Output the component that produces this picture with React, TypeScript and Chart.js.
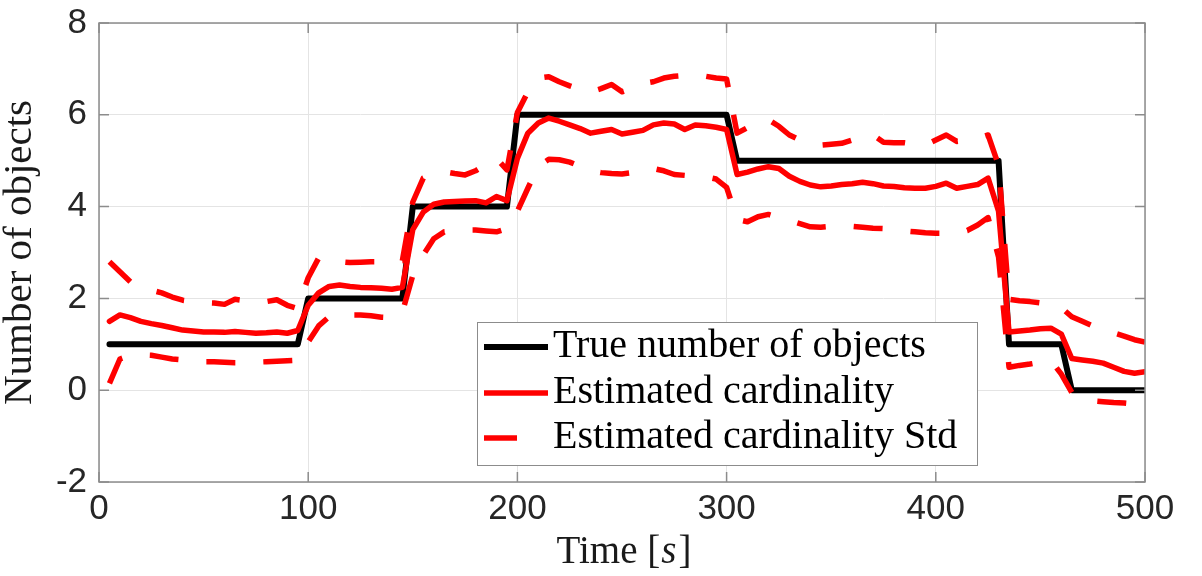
import React, { useEffect, useRef } from 'react';
import { Chart, registerables } from 'chart.js';

Chart.register(...registerables);

// ---------- data ----------
const times = [
  5, 10, 15, 20, 25, 30, 35, 40, 45, 50,
  55, 60, 65, 70, 75, 80, 85, 90, 95, 100,
  105, 110, 115, 120, 125, 130, 135, 140, 145, 150,
  155, 160, 165, 170, 175, 180, 185, 190, 195, 200,
  205, 210, 215, 220, 225, 230, 235, 240, 245, 250,
  255, 260, 265, 270, 275, 280, 285, 290, 295, 300,
  305, 310, 315, 320, 325, 330, 335, 340, 345, 350,
  355, 360, 365, 370, 375, 380, 385, 390, 395, 400,
  405, 410, 415, 420, 425, 430, 435, 440, 445, 450,
  455, 460, 465, 470, 475, 480, 485, 490, 495, 500,
];

const trueCount = [
  1, 1, 1, 1, 1, 1, 1, 1, 1, 1,
  1, 1, 1, 1, 1, 1, 1, 1, 1, 2,
  2, 2, 2, 2, 2, 2, 2, 2, 2, 4,
  4, 4, 4, 4, 4, 4, 4, 4, 4, 6,
  6, 6, 6, 6, 6, 6, 6, 6, 6, 6,
  6, 6, 6, 6, 6, 6, 6, 6, 6, 6,
  5, 5, 5, 5, 5, 5, 5, 5, 5, 5,
  5, 5, 5, 5, 5, 5, 5, 5, 5, 5,
  5, 5, 5, 5, 5, 5, 1, 1, 1, 1,
  1, 1, 0, 0, 0, 0, 0, 0, 0, 0,
];

const estCardinality = [
  1.50, 1.64, 1.58, 1.50, 1.45, 1.41, 1.36, 1.31, 1.29, 1.27,
  1.27, 1.26, 1.28, 1.26, 1.24, 1.25, 1.27, 1.24, 1.30, 1.85,
  2.12, 2.26, 2.29, 2.26, 2.24, 2.23, 2.22, 2.20, 2.24, 3.50,
  3.88, 4.05, 4.10, 4.11, 4.12, 4.13, 4.08, 4.22, 4.13, 5.05,
  5.60, 5.82, 5.93, 5.86, 5.78, 5.70, 5.60, 5.64, 5.68, 5.58,
  5.62, 5.66, 5.78, 5.82, 5.80, 5.68, 5.78, 5.76, 5.73, 5.68,
  4.70, 4.75, 4.82, 4.87, 4.83, 4.66, 4.55, 4.47, 4.43, 4.45,
  4.48, 4.50, 4.53, 4.50, 4.45, 4.44, 4.41, 4.40, 4.40, 4.44,
  4.51, 4.40, 4.44, 4.48, 4.62, 3.90, 1.27, 1.29, 1.31, 1.34,
  1.35, 1.22, 0.69, 0.66, 0.63, 0.59, 0.50, 0.41, 0.37, 0.40,
];

const stdUpper = [
  2.80, 2.58, 2.36, 2.26, 2.18, 2.12, 2.03, 1.96, 1.93, 1.91,
  1.90, 1.87, 1.98, 1.95, 1.93, 1.93, 1.97, 1.85, 1.78, 2.45,
  2.88, 2.84, 2.80, 2.78, 2.79, 2.80, 2.80, 2.80, 2.82, 4.10,
  4.62, 4.72, 4.76, 4.72, 4.69, 4.78, 4.92, 5.05, 4.80, 6.05,
  6.50, 6.80, 6.83, 6.72, 6.63, 6.55, 6.50, 6.57, 6.66, 6.50,
  6.58, 6.68, 6.72, 6.80, 6.84, 6.86, 6.87, 6.84, 6.80, 6.78,
  5.60, 5.72, 5.83, 5.89, 5.75, 5.56, 5.45, 5.37, 5.34, 5.36,
  5.38, 5.45, 5.52, 5.56, 5.40, 5.39, 5.39, 5.36, 5.34, 5.45,
  5.56, 5.42, 5.45, 5.49, 5.56, 4.90, 1.98, 1.95, 1.93, 1.90,
  1.86, 1.80, 1.60, 1.50, 1.40, 1.32, 1.25, 1.18, 1.10, 1.05,
];

const stdLower = [
  0.15, 0.68, 0.76, 0.77, 0.76, 0.72, 0.68, 0.66, 0.64, 0.62,
  0.62, 0.61, 0.60, 0.60, 0.61, 0.62, 0.63, 0.64, 0.65, 1.05,
  1.40, 1.60, 1.63, 1.64, 1.64, 1.62, 1.59, 1.58, 1.70, 2.50,
  2.95, 3.30, 3.45, 3.47, 3.49, 3.49, 3.47, 3.45, 3.52, 3.90,
  4.40, 4.88, 5.03, 5.02, 4.97, 4.88, 4.78, 4.74, 4.72, 4.71,
  4.74, 4.80, 4.83, 4.78, 4.70, 4.68, 4.66, 4.65, 4.60, 4.42,
  3.72, 3.67, 3.78, 3.83, 3.76, 3.70, 3.63, 3.56, 3.55, 3.57,
  3.58, 3.57, 3.55, 3.53, 3.52, 3.49, 3.47, 3.45, 3.43, 3.42,
  3.42, 3.42, 3.48, 3.60, 3.76, 2.90, 0.50, 0.54, 0.57, 0.61,
  0.65, 0.35, -0.05, -0.21, -0.23, -0.25, -0.27, -0.28, -0.30, -0.29,
];

const xTicks = [0, 100, 200, 300, 400, 500];
const yTicks = [-2, 0, 2, 4, 6, 8];
const legendLabels = ['True number of objects', 'Estimated cardinality', 'Estimated cardinality Std'];
const xTitleParts = ['Time [', 's', ']'];
const yTitle = 'Number of objects';

// ---------- styles ----------
const SERIF = '"Liberation Serif", "Times New Roman", serif';
const SANS = '"Liberation Sans", Arial, Helvetica, sans-serif';
const AXIS_GRAY = '#8c8c8c';
const GRID_GRAY = '#e4e4e4';
const TICK_TEXT = '#262626';
const RED = '#ff0000';
const DASH = [29, 28];

const toXY = (ys: number[]) => ys.map((v, i) => ({ x: times[i], y: v }));

const framePlugin = {
  id: 'matlabFrame',
  afterDatasetsDraw(chart: any) {
    const { ctx, chartArea, scales } = chart;
    const { left, right, top, bottom } = chartArea;
    ctx.save();
    ctx.strokeStyle = AXIS_GRAY;
    ctx.lineWidth = 1.5;
    ctx.strokeRect(left, top, right - left, bottom - top);
    ctx.beginPath();
    const tl = 10;
    xTicks.forEach((v) => {
      const px = scales.x.getPixelForValue(v);
      ctx.moveTo(px, bottom);
      ctx.lineTo(px, bottom - tl);
      ctx.moveTo(px, top);
      ctx.lineTo(px, top + tl);
    });
    yTicks.forEach((v) => {
      const py = scales.y.getPixelForValue(v);
      ctx.moveTo(left, py);
      ctx.lineTo(left + tl, py);
      ctx.moveTo(right, py);
      ctx.lineTo(right - tl, py);
    });
    ctx.stroke();
    ctx.restore();
  },
  afterDraw(chart: any) {
    const { ctx, chartArea } = chart;
    const { left, right, bottom } = chartArea;
    ctx.save();

    // legend box
    const lx = left + 378;
    const ly = chartArea.top + 299;
    const lw = 500;
    const lh = 143;
    ctx.fillStyle = '#ffffff';
    ctx.fillRect(lx, ly, lw, lh);
    ctx.strokeStyle = AXIS_GRAY;
    ctx.lineWidth = 1;
    ctx.strokeRect(lx + 0.5, ly + 0.5, lw, lh);

    const rows = [ly + 25, ly + 71, ly + 116];
    const sx0 = lx + 7;
    ctx.lineCap = 'butt';
    ctx.setLineDash([]);
    ctx.strokeStyle = '#000000';
    ctx.lineWidth = 6;
    ctx.beginPath();
    ctx.moveTo(sx0, rows[0]);
    ctx.lineTo(sx0 + 64, rows[0]);
    ctx.stroke();
    ctx.strokeStyle = RED;
    ctx.lineWidth = 5.5;
    ctx.beginPath();
    ctx.moveTo(sx0, rows[1]);
    ctx.lineTo(sx0 + 64, rows[1]);
    ctx.stroke();
    ctx.beginPath();
    ctx.moveTo(sx0, rows[2]);
    ctx.lineTo(sx0 + 33, rows[2]);
    ctx.stroke();

    ctx.fillStyle = '#000000';
    ctx.font = `40px ${SERIF}`;
    ctx.textAlign = 'left';
    ctx.textBaseline = 'alphabetic';
    legendLabels.forEach((t, i) => {
      ctx.fillText(t, lx + 76, rows[i] + 10);
    });

    // x-axis title with italic s
    const normal = `39px ${SERIF}`;
    const italic = `italic 39px ${SERIF}`;
    ctx.font = normal;
    const w0 = ctx.measureText(xTitleParts[0]).width;
    const w2 = ctx.measureText(xTitleParts[2]).width;
    ctx.font = italic;
    const w1 = ctx.measureText(xTitleParts[1]).width;
    const total = w0 + w1 + w2 + 3;
    let x = (left + right) / 2 + 2 - total / 2;
    const by = bottom + 81;
    ctx.fillStyle = '#1a1a1a';
    ctx.font = normal;
    ctx.fillText(xTitleParts[0], x, by);
    x += w0 + 1;
    ctx.font = italic;
    ctx.fillText(xTitleParts[1], x, by);
    x += w1 + 2;
    ctx.font = normal;
    ctx.fillText(xTitleParts[2], x, by);
    ctx.restore();
  },
};

export default function App() {
  const canvasRef = useRef<HTMLCanvasElement | null>(null);

  useEffect(() => {
    if (!canvasRef.current) return;
    const chart = new Chart(canvasRef.current, {
      type: 'line',
      data: {
        datasets: [
          {
            label: legendLabels[0],
            data: toXY(trueCount),
            borderColor: '#000000',
            borderWidth: 6,
            borderJoinStyle: 'round',
            borderCapStyle: 'round',
            pointRadius: 0,
            tension: 0,
            order: 3,
          },
          {
            label: legendLabels[1],
            data: toXY(estCardinality),
            borderColor: RED,
            borderWidth: 5.5,
            borderJoinStyle: 'round',
            borderCapStyle: 'round',
            pointRadius: 0,
            tension: 0,
            order: 1,
          },
          {
            label: legendLabels[2],
            data: toXY(stdUpper),
            borderColor: RED,
            borderWidth: 5.5,
            borderDash: DASH,
            borderCapStyle: 'butt',
            borderJoinStyle: 'round',
            pointRadius: 0,
            tension: 0,
            order: 2,
          },
          {
            label: legendLabels[2] + ' (lower)',
            data: toXY(stdLower),
            borderColor: RED,
            borderWidth: 5.5,
            borderDash: DASH,
            borderCapStyle: 'butt',
            borderJoinStyle: 'round',
            pointRadius: 0,
            tension: 0,
            order: 2,
          },
        ],
      },
      options: {
        animation: false,
        responsive: false,
        maintainAspectRatio: false,
        layout: { padding: { top: 23, right: 57, left: 0, bottom: 0 } },
        plugins: {
          legend: { display: false },
          tooltip: { enabled: false },
        },
        scales: {
          x: {
            type: 'linear',
            min: 0,
            max: 500,
            afterBuildTicks: (scale: any) => {
              scale.ticks = xTicks.map((v) => ({ value: v }));
            },
            afterFit: (scale: any) => {
              scale.height = 94;
              scale.paddingLeft = 0;
              scale.paddingRight = 0;
            },
            ticks: {
              font: { family: SANS, size: 35 },
              color: TICK_TEXT,
              padding: 6,
              maxRotation: 0,
              autoSkip: false,
            },
            grid: { color: GRID_GRAY, lineWidth: 1, drawTicks: false },
            border: { display: false },
            title: { display: false },
          },
          y: {
            type: 'linear',
            min: -2,
            max: 8,
            afterBuildTicks: (scale: any) => {
              scale.ticks = yTicks.map((v) => ({ value: v }));
            },
            afterFit: (scale: any) => {
              scale.width = 99;
              scale.paddingTop = 0;
              scale.paddingBottom = 0;
            },
            ticks: {
              font: { family: SANS, size: 35 },
              color: TICK_TEXT,
              padding: 12,
              autoSkip: false,
            },
            grid: { color: GRID_GRAY, lineWidth: 1, drawTicks: false },
            border: { display: false },
            title: {
              display: true,
              text: yTitle,
              color: '#1a1a1a',
              font: { family: SERIF, size: 41, lineHeight: 1.0 },
              padding: { top: 0, bottom: 0 },
            },
          },
        },
      },
      plugins: [framePlugin],
    } as any);
    return () => chart.destroy();
  }, []);

  return (
    <div style={{ position: 'fixed', left: 0, top: 0, width: 1202, height: 576, background: '#ffffff' }}>
      <canvas ref={canvasRef} width={1202} height={576} style={{ display: 'block' }} />
    </div>
  );
}
